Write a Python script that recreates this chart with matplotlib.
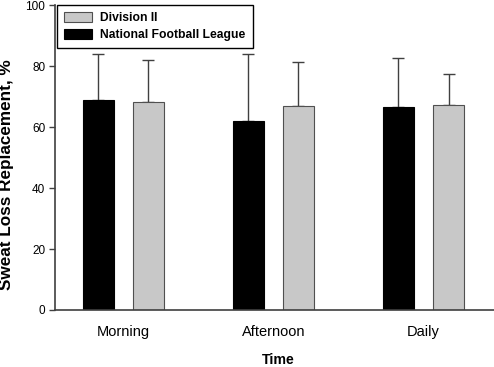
import matplotlib.pyplot as plt
import numpy as np

plt.rcParams['font.family'] = ['Liberation Sans', 'DejaVu Sans']

# du lieu doc tu hinh
categories = ['Morning', 'Afternoon', 'Daily']
nfl_mean = [69.0, 62.0, 66.6]
nfl_sd = [14.9, 22.0, 16.0]
div2_mean = [68.1, 67.0, 67.2]
div2_sd = [13.8, 14.3, 10.1]

fig = plt.figure(figsize=(4.94, 3.67), dpi=100)
ax = fig.add_axes([55 / 494, 1 - 310 / 367, 439 / 494, 305 / 367])

x = np.arange(len(categories))
w = 0.207
off = 0.167
spine_col = '#404040'

ax.bar(x - off, nfl_mean, w, color='black', edgecolor='black', linewidth=0.8,
       label='National Football League', zorder=2)
ax.bar(x + off, div2_mean, w, color='#c8c8c8', edgecolor='#505050', linewidth=0.8,
       label='Division II', zorder=2)
ax.errorbar(x - off, nfl_mean, yerr=[np.zeros(3), nfl_sd], fmt='none',
            ecolor=spine_col, elinewidth=1, capsize=4.5, capthick=1, zorder=1)
ax.errorbar(x + off, div2_mean, yerr=[np.zeros(3), div2_sd], fmt='none',
            ecolor=spine_col, elinewidth=1, capsize=4.5, capthick=1, zorder=1)

ax.set_xlim(-0.454, 2.47)
ax.set_ylim(0, 100)
ax.set_yticks([0, 20, 40, 60, 80, 100])
ax.set_xticks(x)
ax.set_xticklabels(categories, fontsize=10.5)
ax.tick_params(axis='x', length=0, pad=11)
ax.tick_params(axis='y', length=4, width=1, color=spine_col, labelsize=8.5, pad=3)

for s in ['top', 'right']:
    ax.spines[s].set_visible(False)
for s in ['left', 'bottom']:
    ax.spines[s].set_color(spine_col)
    ax.spines[s].set_linewidth(1.2)

ax.set_ylabel('Sweat Loss Replacement, %', fontsize=12.3, fontweight='bold')
ax.yaxis.set_label_coords(14 / 494, 1 - 174.5 / 367, transform=fig.transFigure)
ax.set_xlabel('Time', fontsize=10.2, fontweight='bold')
ax.xaxis.set_label_coords(278 / 494, 1 - 353 / 367, transform=fig.transFigure)

handles, labels = ax.get_legend_handles_labels()
leg = ax.legend(handles[::-1], labels[::-1], loc='upper left',
                bbox_to_anchor=(57 / 494, 1 - 5 / 367), bbox_transform=fig.transFigure,
                borderaxespad=0, fancybox=False, edgecolor='black', framealpha=1,
                prop={'weight': 'bold', 'size': 8.7}, handlelength=2.3, handleheight=0.8,
                borderpad=0.6, labelspacing=0.4, handletextpad=0.7)
leg.get_frame().set_linewidth(1)

plt.savefig('out.png', dpi=100)
